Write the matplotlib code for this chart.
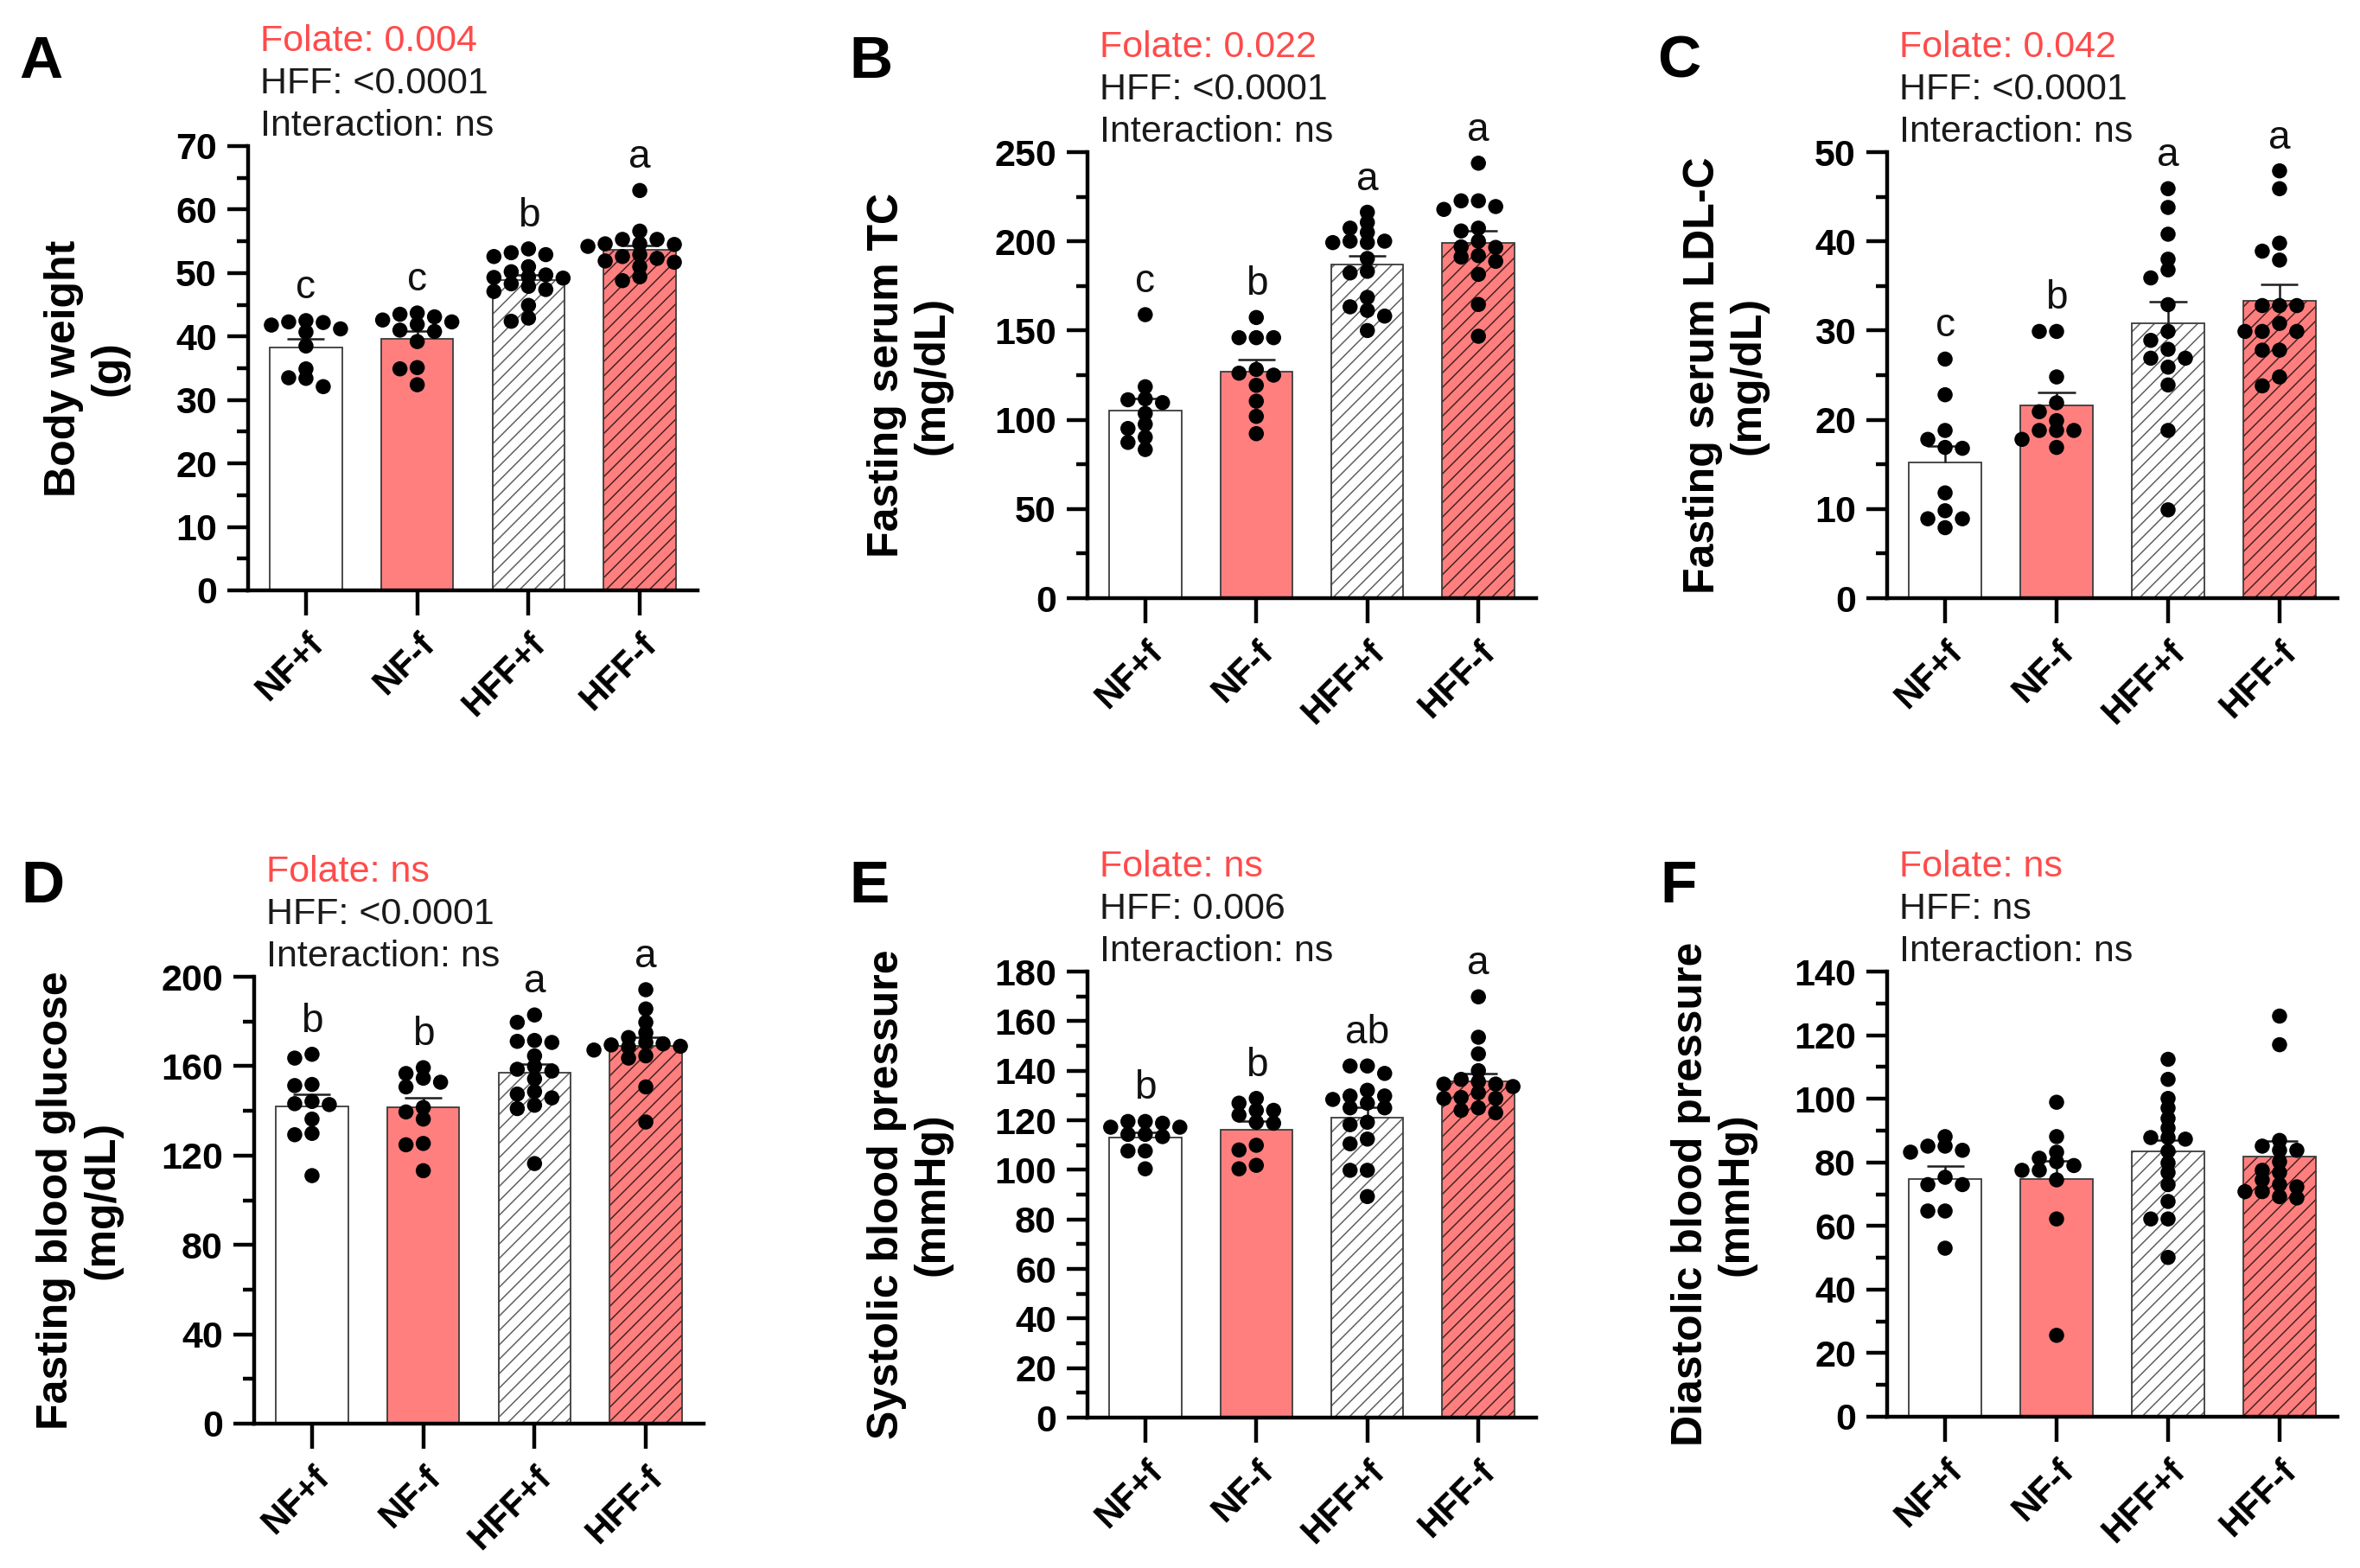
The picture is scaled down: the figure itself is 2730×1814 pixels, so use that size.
import numpy as np
import matplotlib
matplotlib.use('Agg')
import matplotlib.pyplot as plt
import matplotlib.transforms as mtrans
from matplotlib.ticker import MultipleLocator

plt.rcParams['font.family'] = ['Liberation Sans', 'DejaVu Sans']
plt.rcParams['hatch.linewidth'] = 1.1

groups = ['NF+f', 'NF-f', 'HFF+f', 'HFF-f']

# A - body weight (g)
bw_points = [
    [42.2, 41.2, 42.3, 42.5, 41.8, 40.7, 38.5, 34.9, 33.4, 33.5, 32.1],
    [43.1, 43.7, 42.3, 42.6, 43.5, 41.9, 41.0, 40.8, 39.2, 34.9, 35.1, 32.4],
    [53.8, 52.6, 53.2, 52.9, 49.7, 49.3, 51.0, 50.2, 49.4, 49.2, 47.1, 48.3, 47.4, 44.9, 42.4, 42.9, 47.9],
    [63.0, 56.6, 54.6, 55.3, 55.3, 54.6, 54.2, 54.5, 52.9, 52.3, 51.9, 52.6, 51.7, 51.0, 48.8, 49.4],
]
bw_mean = [38.3, 39.6, 48.9, 53.7]
bw_sem = [1.3, 1.2, 0.8, 0.7]

# B - fasting serum TC (mg/dL)
tc_points = [
    [158.9, 118.5, 109.6, 111.7, 111.2, 103.5, 97.5, 95.1, 90.2, 87.3, 83.3],
    [157.3, 146.0, 146.0, 146.0, 126.1, 128.2, 125.0, 119.3, 110.4, 101.9, 92.2],
    [216.3, 210.6, 200.1, 199.3, 205.0, 207.4, 199.3, 200.1, 190.4, 182.3, 183.2, 168.6, 161.3, 163.3, 158.1, 150.0],
    [243.8, 222.7, 219.5, 217.9, 222.7, 205.8, 207.4, 200.1, 196.9, 196.6, 192.0, 191.2, 188.8, 181.5, 164.6, 146.8],
]
tc_mean = [105.1, 126.7, 186.9, 199.3]
tc_sem = [7.0, 6.8, 5.1, 6.5]

# C - fasting serum LDL-C (mg/dL)
ldl_points = [
    [26.8, 22.8, 18.8, 17.8, 16.9, 16.8, 11.8, 9.8, 8.9, 8.9, 7.9],
    [29.9, 29.9, 24.8, 21.9, 20.9, 19.9, 18.8, 18.8, 18.8, 17.8, 16.9],
    [45.9, 43.8, 40.8, 38.0, 36.8, 35.9, 32.9, 29.9, 28.9, 26.9, 27.9, 26.9, 25.9, 23.9, 18.8, 9.9],
    [47.9, 45.9, 39.8, 38.9, 37.9, 32.8, 32.8, 32.8, 30.8, 29.9, 29.9, 29.9, 27.8, 27.8, 24.8, 23.8],
]
ldl_mean = [15.2, 21.6, 30.8, 33.3]
ldl_sem = [1.9, 1.5, 2.4, 1.9]

# D - fasting blood glucose (mg/dL)
glu_points = [
    [163.6, 165.3, 151.8, 151.3, 142.8, 143.2, 144.2, 136.3, 129.3, 129.9, 111.0],
    [159.3, 154.6, 156.7, 152.8, 150.7, 141.5, 136.3, 139.5, 124.8, 125.4, 113.2],
    [179.6, 182.9, 171.5, 171.1, 170.6, 164.6, 159.9, 157.8, 158.6, 145.8, 147.5, 148.6, 141.0, 142.5, 116.4, 154.3],
    [194.2, 185.6, 179.6, 172.8, 174.9, 167.2, 168.9, 170.0, 170.6, 168.5, 163.6, 164.6, 150.7, 135.0, 169.5],
]
glu_mean = [142.1, 141.5, 157.1, 168.9]
glu_sem = [5.4, 4.5, 4.0, 3.9]

# E - systolic blood pressure (mmHg)
sbp_points = [
    [119.5, 118.8, 117.2, 119.5, 117.2, 114.3, 114.3, 113.4, 107.6, 107.6, 100.4],
    [128.8, 126.9, 124.0, 122.1, 124.0, 118.8, 119.2, 108.0, 109.9, 100.4, 101.8],
    [141.9, 141.9, 138.9, 128.4, 129.8, 129.8, 132.1, 125.0, 125.0, 126.9, 119.2, 118.2, 112.4, 110.5, 99.8, 99.8, 89.2],
    [169.8, 153.5, 146.8, 140.0, 134.6, 133.6, 135.6, 134.6, 136.5, 129.2, 128.8, 131.1, 128.8, 124.0, 125.0, 123.0],
]
sbp_mean = [113.0, 116.3, 121.1, 135.6]
sbp_sem = [2.0, 3.2, 4.2, 3.3]

# F - diastolic blood pressure (mmHg)
dbp_points = [
    [88.1, 85.1, 85.1, 83.8, 83.2, 75.3, 73.0, 73.0, 64.7, 64.7, 53.0],
    [98.9, 88.1, 81.3, 83.2, 77.5, 77.5, 74.5, 62.2, 25.6, 80.2, 79.0],
    [112.4, 106.1, 100.1, 97.1, 93.8, 90.8, 87.8, 87.3, 87.8, 83.5, 79.8, 73.0, 67.7, 62.2, 62.2, 50.1, 76.8],
    [126.0, 117.0, 83.8, 85.1, 86.9, 83.8, 80.2, 76.8, 77.5, 72.3, 70.8, 73.0, 74.5, 70.8, 69.2, 68.8],
]
dbp_mean = [74.8, 74.8, 83.5, 81.7]
dbp_sem = [3.9, 5.7, 3.6, 4.9]

# panel texts
ylabels = ['Body weight\n(g)', 'Fasting serum TC\n(mg/dL)', 'Fasting serum LDL-C\n(mg/dL)',
           'Fasting blood glucose\n(mg/dL)', 'Systolic blood pressure\n(mmHg)', 'Diastolic blood pressure\n(mmHg)']
folate_p = ['0.004', '0.022', '0.042', 'ns', 'ns', 'ns']
hff_p = ['<0.0001', '<0.0001', '<0.0001', '<0.0001', '0.006', 'ns']
letters = [['c', 'c', 'b', 'a'], ['c', 'b', 'a', 'a'], ['c', 'b', 'a', 'a'],
           ['b', 'b', 'a', 'a'], ['b', 'b', 'ab', 'a'], None]
ymaxs = [70, 250, 50, 200, 180, 140]
majors = [10, 50, 10, 40, 20, 20]
panel_ids = ['A', 'B', 'C', 'D', 'E', 'F']

points = [bw_points, tc_points, ldl_points, glu_points, sbp_points, dbp_points]
means = [bw_mean, tc_mean, ldl_mean, glu_mean, sbp_mean, dbp_mean]
sems = [bw_sem, tc_sem, ldl_sem, glu_sem, sbp_sem, dbp_sem]

W, H = 2730, 1814
fig = plt.figure(figsize=(W / 100, H / 100), dpi=100)

# axes boxes in pixels: left, top, right, bottom
boxes = [(287, 169, 807, 683), (1258, 176, 1777, 692), (2183, 176, 2704, 692),
         (294, 1130, 814, 1647), (1258, 1124, 1777, 1640), (2183, 1124, 2704, 1639)]
label_offsets = [-137, -156, -137, -153, -156, -151]
letter_pos = [(22, 90), (982, 90), (1917, 90), (24, 1044), (982, 1044), (1920, 1044)]

RED = '#FF7F7F'
TXT_RED = '#FF4B4B'
fills = ['white', RED, 'white', RED]
hatches = ['', '', '//', '//']
hatch_cols = ['#444444', '#444444', '#606060', '#4a2222']
XMIN, XMAX = -0.52, 3.52
BAR_W = 0.65
DOT_PX = 17.5


def swarm(vals, center, px_y, px_x, step=20.0, dmin=11.0):
    # greedy beeswarm on a 20 px column grid, highest value first
    ys = np.asarray(vals) * px_y
    cols = [0]
    for j in range(1, 8):
        cols += [-j, j]
    placed = []
    xs = np.zeros(len(ys))
    for i in np.argsort(-ys, kind='stable'):
        for c in cols:
            cx = c * step
            if all(np.hypot(cx - px, ys[i] - py) >= dmin for px, py in placed):
                break
        placed.append((cx, ys[i]))
        xs[i] = center + cx / px_x
    return xs


shift = mtrans.ScaledTranslation(-8 / 100, 0, fig.dpi_scale_trans)

for k in range(6):
    l, t, r, b = boxes[k]
    ax = fig.add_axes([l / W, 1 - b / H, (r - l) / W, (b - t) / H])
    px_y = (b - t) / ymaxs[k]
    px_x = (r - l) / (XMAX - XMIN)
    x = np.arange(4)
    m = np.array(means[k])
    s = np.array(sems[k])

    for i in range(4):
        ax.bar(x[i], m[i], width=BAR_W, color=fills[i], hatch=hatches[i],
               edgecolor=hatch_cols[i], linewidth=0, zorder=1)
        ax.bar(x[i], m[i], width=BAR_W, fill=False, edgecolor='#3c3c3c',
               linewidth=1.3, zorder=1.5)

    ax.vlines(x, m, m + s, color='#1e1e1e', linewidth=1.8, zorder=2)
    ax.hlines(m + s, x - 0.167, x + 0.167, color='#1e1e1e', linewidth=1.8, zorder=2)

    for i in range(4):
        v = points[k][i]
        xs = swarm(v, x[i], px_y, px_x)
        ax.scatter(xs, v, s=(DOT_PX * 0.72) ** 2, color='black', edgecolors='none',
                   zorder=3, clip_on=False)
        if letters[k] is not None:
            ax.annotate(letters[k][i], xy=(x[i], max(v)), xytext=(0, 26),
                        textcoords='offset pixels', ha='center', va='baseline',
                        fontsize=33, color='#111111')

    ax.set_xlim(XMIN, XMAX)
    ax.set_ylim(0, ymaxs[k])
    ax.yaxis.set_major_locator(MultipleLocator(majors[k]))
    ax.yaxis.set_minor_locator(MultipleLocator(majors[k] / 2))
    ax.set_xticks(x)
    ax.set_xticklabels(groups, rotation=45, ha='right', va='top', rotation_mode='anchor')
    for lbl in ax.get_xticklabels():
        lbl.set_transform(lbl.get_transform() + shift)
    for lbl in ax.get_xticklabels() + ax.get_yticklabels():
        lbl.set_fontweight('bold')
    ax.tick_params(axis='y', which='major', length=17, width=3.2, labelsize=31, pad=9)
    ax.tick_params(axis='y', which='minor', length=9.5, width=3.2)
    ax.tick_params(axis='x', length=21, width=3.2, labelsize=29.5, pad=10)
    for sp in ['top', 'right']:
        ax.spines[sp].set_visible(False)
    for sp in ['left', 'bottom']:
        ax.spines[sp].set_linewidth(3.2)

    ax.set_ylabel(ylabels[k], fontsize=36, fontweight='bold', linespacing=1.2)
    ax.yaxis.set_label_coords(label_offsets[k] / (r - l), 0.5)

    # two-way ANOVA results
    ax.annotate('Folate: ' + folate_p[k], xy=(0, 1), xycoords='axes fraction',
                xytext=(14, 110), textcoords='offset pixels', fontsize=31,
                color=TXT_RED, va='baseline', ha='left')
    ax.annotate('HFF: ' + hff_p[k], xy=(0, 1), xycoords='axes fraction',
                xytext=(14, 61), textcoords='offset pixels', fontsize=31,
                color='#1a1a1a', va='baseline', ha='left')
    ax.annotate('Interaction: ns', xy=(0, 1), xycoords='axes fraction',
                xytext=(14, 12), textcoords='offset pixels', fontsize=31,
                color='#1a1a1a', va='baseline', ha='left')

    lx, ly = letter_pos[k]
    fig.text(lx / W, 1 - ly / H, panel_ids[k], fontsize=50, fontweight='bold',
             ha='left', va='baseline')

fig.savefig('out.png', dpi=100)
